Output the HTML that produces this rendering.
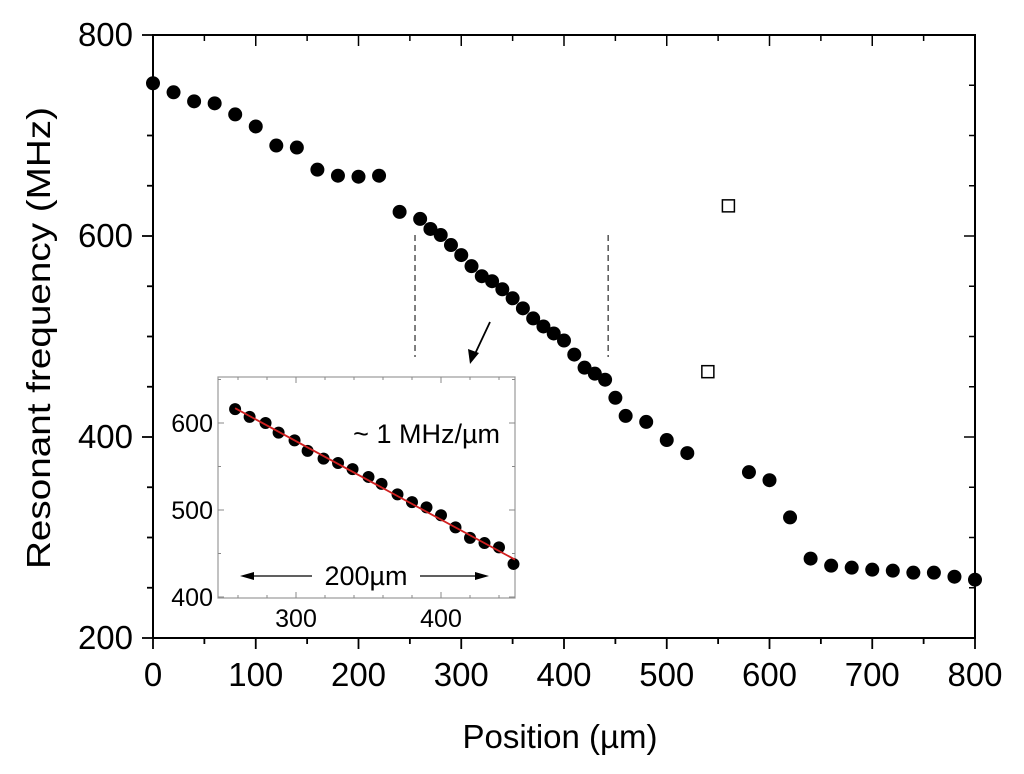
<!DOCTYPE html>
<html><head><meta charset="utf-8"><style>
body{margin:0;background:#fff}
svg{display:block;font-family:"Liberation Sans",sans-serif}
</style></head><body>
<svg id="c" width="1024" height="774"></svg>
<script>
const xs=[0,20,40,60,80,100,120,140,160,180,200,220,240,260,270,280,290,300,310,320,330,340,350,360,370,380,390,400,410,420,430,440,450,460,480,500,520,580,600,620,640,660,680,700,720,740,760,780,800];
const ys=[752,743,734,732,721,709,690,688,666,660,659,660,624,617,607,601,591,581,570,560,555,547,538,528,518,510,503,496,482,469,463,457,439,421,415,397,384,365,357,320,279,272,270,268,267,265,265,261,258];
const openX=[540,560];
const openY=[465,630];
const xTicks=[0,100,200,300,400,500,600,700,800];
const yTicks=[200,400,600,800];
const inX=[258,268,279,288,299,308,319,329,339,350,359,370,380,390,400,410,420,430,440,450];
const inY=[616,607,600,589,580,568,559,554,547,538,530,518,509,503,494,480,468,462,457,438];
const inXTicks=[300,400];
const inYTicks=[400,500,600];
const fitX=[258,451];
const fitY=[617,443];

const S=document.getElementById('c');const NS='http://www.w3.org/2000/svg';
function mk(t,a,p){const e=document.createElementNS(NS,t);for(const k in a)e.setAttribute(k,a[k]);(p||S).appendChild(e);return e;}
const X=v=>153+v*1.0275, Y=v=>638-(v-200)*1.005;
const L=153,R=975,T=35,B=638;
const frame=mk('rect',{x:L,y:T,width:R-L,height:B-T,fill:'none',stroke:'#000','stroke-width':2});


for(let v=0;v<=800;v+=50){const big=v%100==0,l=big?11:6;
mk('line',{x1:X(v),x2:X(v),y1:B,y2:B+l,stroke:'#000','stroke-width':1.8});
mk('line',{x1:X(v),x2:X(v),y1:T,y2:T+l,stroke:'#000','stroke-width':1.5});}
for(let v=200;v<=800;v+=50){const big=v%200==0,l=big?11:6;
mk('line',{x1:L,x2:L-l,y1:Y(v),y2:Y(v),stroke:'#000','stroke-width':1.8});
mk('line',{x1:R,x2:R-l,y1:Y(v),y2:Y(v),stroke:'#000','stroke-width':1.5});}
xTicks.forEach(v=>{const t=mk('text',{x:X(v),y:686,'text-anchor':'middle','font-size':33});t.textContent=v;
});
yTicks.forEach(v=>{const t=mk('text',{x:133,y:Y(v)+11,'text-anchor':'end','font-size':33});t.textContent=v;
});
const xt=mk('text',{x:560,y:748,'text-anchor':'middle','font-size':33});xt.textContent='Position (µm)';

const yt=mk('text',{x:50,y:338,'text-anchor':'middle','font-size':33,textLength:462,lengthAdjust:'spacingAndGlyphs',transform:'rotate(-90 50 338)'});yt.textContent='Resonant frequency (MHz)';

[255,443].forEach(v=>{const d=mk('line',{x1:X(v),x2:X(v),y1:235,y2:357,stroke:'#555','stroke-width':1.5,'stroke-dasharray':'6,4'});
});
const ar=mk('line',{x1:490,y1:322,x2:474,y2:356,stroke:'#000','stroke-width':1.8});

mk('polygon',{points:'470,364 468,349 479,353',fill:'#000'});
xs.forEach((v,i)=>{const c=mk('circle',{cx:X(v),cy:Y(ys[i]),r:7,fill:'#000'});
});
openX.forEach((v,i)=>{const r=mk('rect',{x:X(v)-6,y:Y(openY[i])-6,width:12,height:12,fill:'#fff',stroke:'#000','stroke-width':1.5});
});
const IX=v=>296+(v-300)*1.45, IY=v=>423-(v-600)*0.87;
const g=mk('g',{});
mk('rect',{x:218,y:377,width:297,height:221,fill:'#fff',stroke:'#999','stroke-width':1.2},g);
for(let v=260;v<=450;v+=20){const l=(v%100==0)?6:3;
mk('line',{x1:IX(v),x2:IX(v),y1:598,y2:598-l,stroke:'#888'},g);mk('line',{x1:IX(v),x2:IX(v),y1:377,y2:377+l,stroke:'#888'},g);}
for(let v=400;v<=650;v+=50){const l=(v%100==0)?6:3;
mk('line',{x1:218,x2:218+l,y1:IY(v),y2:IY(v),stroke:'#888'},g);mk('line',{x1:515,x2:515-l,y1:IY(v),y2:IY(v),stroke:'#888'},g);}
inXTicks.forEach(v=>{const t=mk('text',{x:IX(v),y:627,'text-anchor':'middle','font-size':25},g);t.textContent=v;
});
inYTicks.forEach(v=>{const t=mk('text',{x:213,y:IY(v)+9,'text-anchor':'end','font-size':25},g);t.textContent=v;
});
inX.forEach((v,i)=>{const c=mk('circle',{cx:IX(v),cy:IY(inY[i]),r:6,fill:'#000'},g);
});
const fl=mk('line',{x1:IX(fitX[0]),y1:IY(fitY[0]),x2:IX(fitX[1]),y2:IY(fitY[1]),stroke:'#d02020','stroke-width':1.8},g);

const an=mk('text',{x:500,y:443,'text-anchor':'end','font-size':27},g);an.textContent='~ 1 MHz/µm';

const sp=mk('text',{x:366,y:585,'text-anchor':'middle','font-size':27},g);sp.textContent='200µm';

mk('line',{x1:250,x2:312,y1:576,y2:576,stroke:'#000','stroke-width':1.2},g);
mk('line',{x1:420,x2:480,y1:576,y2:576,stroke:'#000','stroke-width':1.2},g);
mk('polygon',{points:'240,576 254,572 254,580',fill:'#000'},g);
mk('polygon',{points:'489,576 475,572 475,580',fill:'#000'},g);
</script>
</body></html>
